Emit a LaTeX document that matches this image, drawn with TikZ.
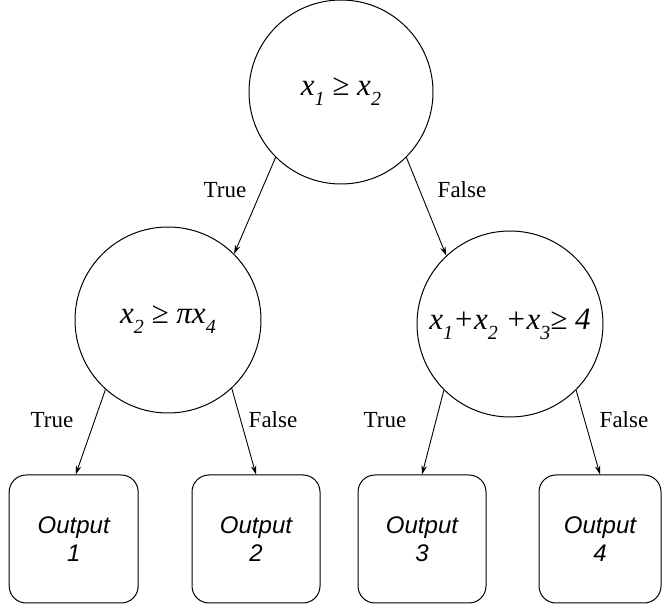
\documentclass[tikz,border=0pt]{standalone}
\usepackage{fontspec}
\setmainfont{Liberation Serif}
\newfontfamily\boxfont{Liberation Sans}
\usetikzlibrary{arrows.meta}
\newcommand{\sbs}[1]{\raisebox{-0.32em}{\fontsize{20}{20}\selectfont\itshape #1}}
\begin{document}
\begin{tikzpicture}[x=1pt,y=-1pt,
  decision/.style={circle, draw, line width=1pt, minimum size=184pt, inner sep=0pt,
    font=\fontsize{31}{31}\selectfont\itshape},
  outbox/.style={draw, line width=1pt, rounded corners=17pt, minimum height=128pt,
    inner sep=0pt, align=center, font=\boxfont\fontsize{24}{28}\selectfont\itshape},
  edgelbl/.style={font=\fontsize{23}{23}\selectfont, inner sep=0pt},
  link/.style={line width=0.9pt, -{Stealth[length=9pt,width=5.5pt]}}]
\useasboundingbox (0,0) rectangle (662,609);
\node[decision] (T) at (341,92) {x\sbs{1} ≥ x\sbs{2}};
\node[decision, minimum size=186pt] (L) at (168,320) {x\sbs{2} ≥ πx\sbs{4}};
\node[decision, minimum size=186pt] (R) at (510,324) {x\sbs{1}+x\sbs{2} +x\sbs{3}≥ 4};
\node[outbox, minimum width=129pt] (b1) at (73.7,539) {Output\\1};
\node[outbox, minimum width=128pt] (b2) at (256,539) {Output\\2};
\node[outbox, minimum width=128pt] (b3) at (422,539) {Output\\3};
\node[outbox, minimum width=122pt] (b4) at (600,539) {Output\\4};
\draw[link] (T.225) -- (L.45);
\draw[link] (T.315) -- (R.133);
\draw[link] (L.228) -- ([xshift=2pt]b1.north);
\draw[link] (L.313) -- (b2.north);
\draw[link] (R.225) -- (b3.north);
\draw[link] (R.315) -- (b4.north);
\node[edgelbl] (t1) at (225,190) {True};
\node[edgelbl] (f1) at (462,190) {False};
\node[edgelbl] (t2) at (52,420) {True};
\node[edgelbl] (f2) at (273,420) {False};
\node[edgelbl] (t3) at (385,420) {True};
\node[edgelbl] (f3) at (624,420) {False};
\end{tikzpicture}
\end{document}
